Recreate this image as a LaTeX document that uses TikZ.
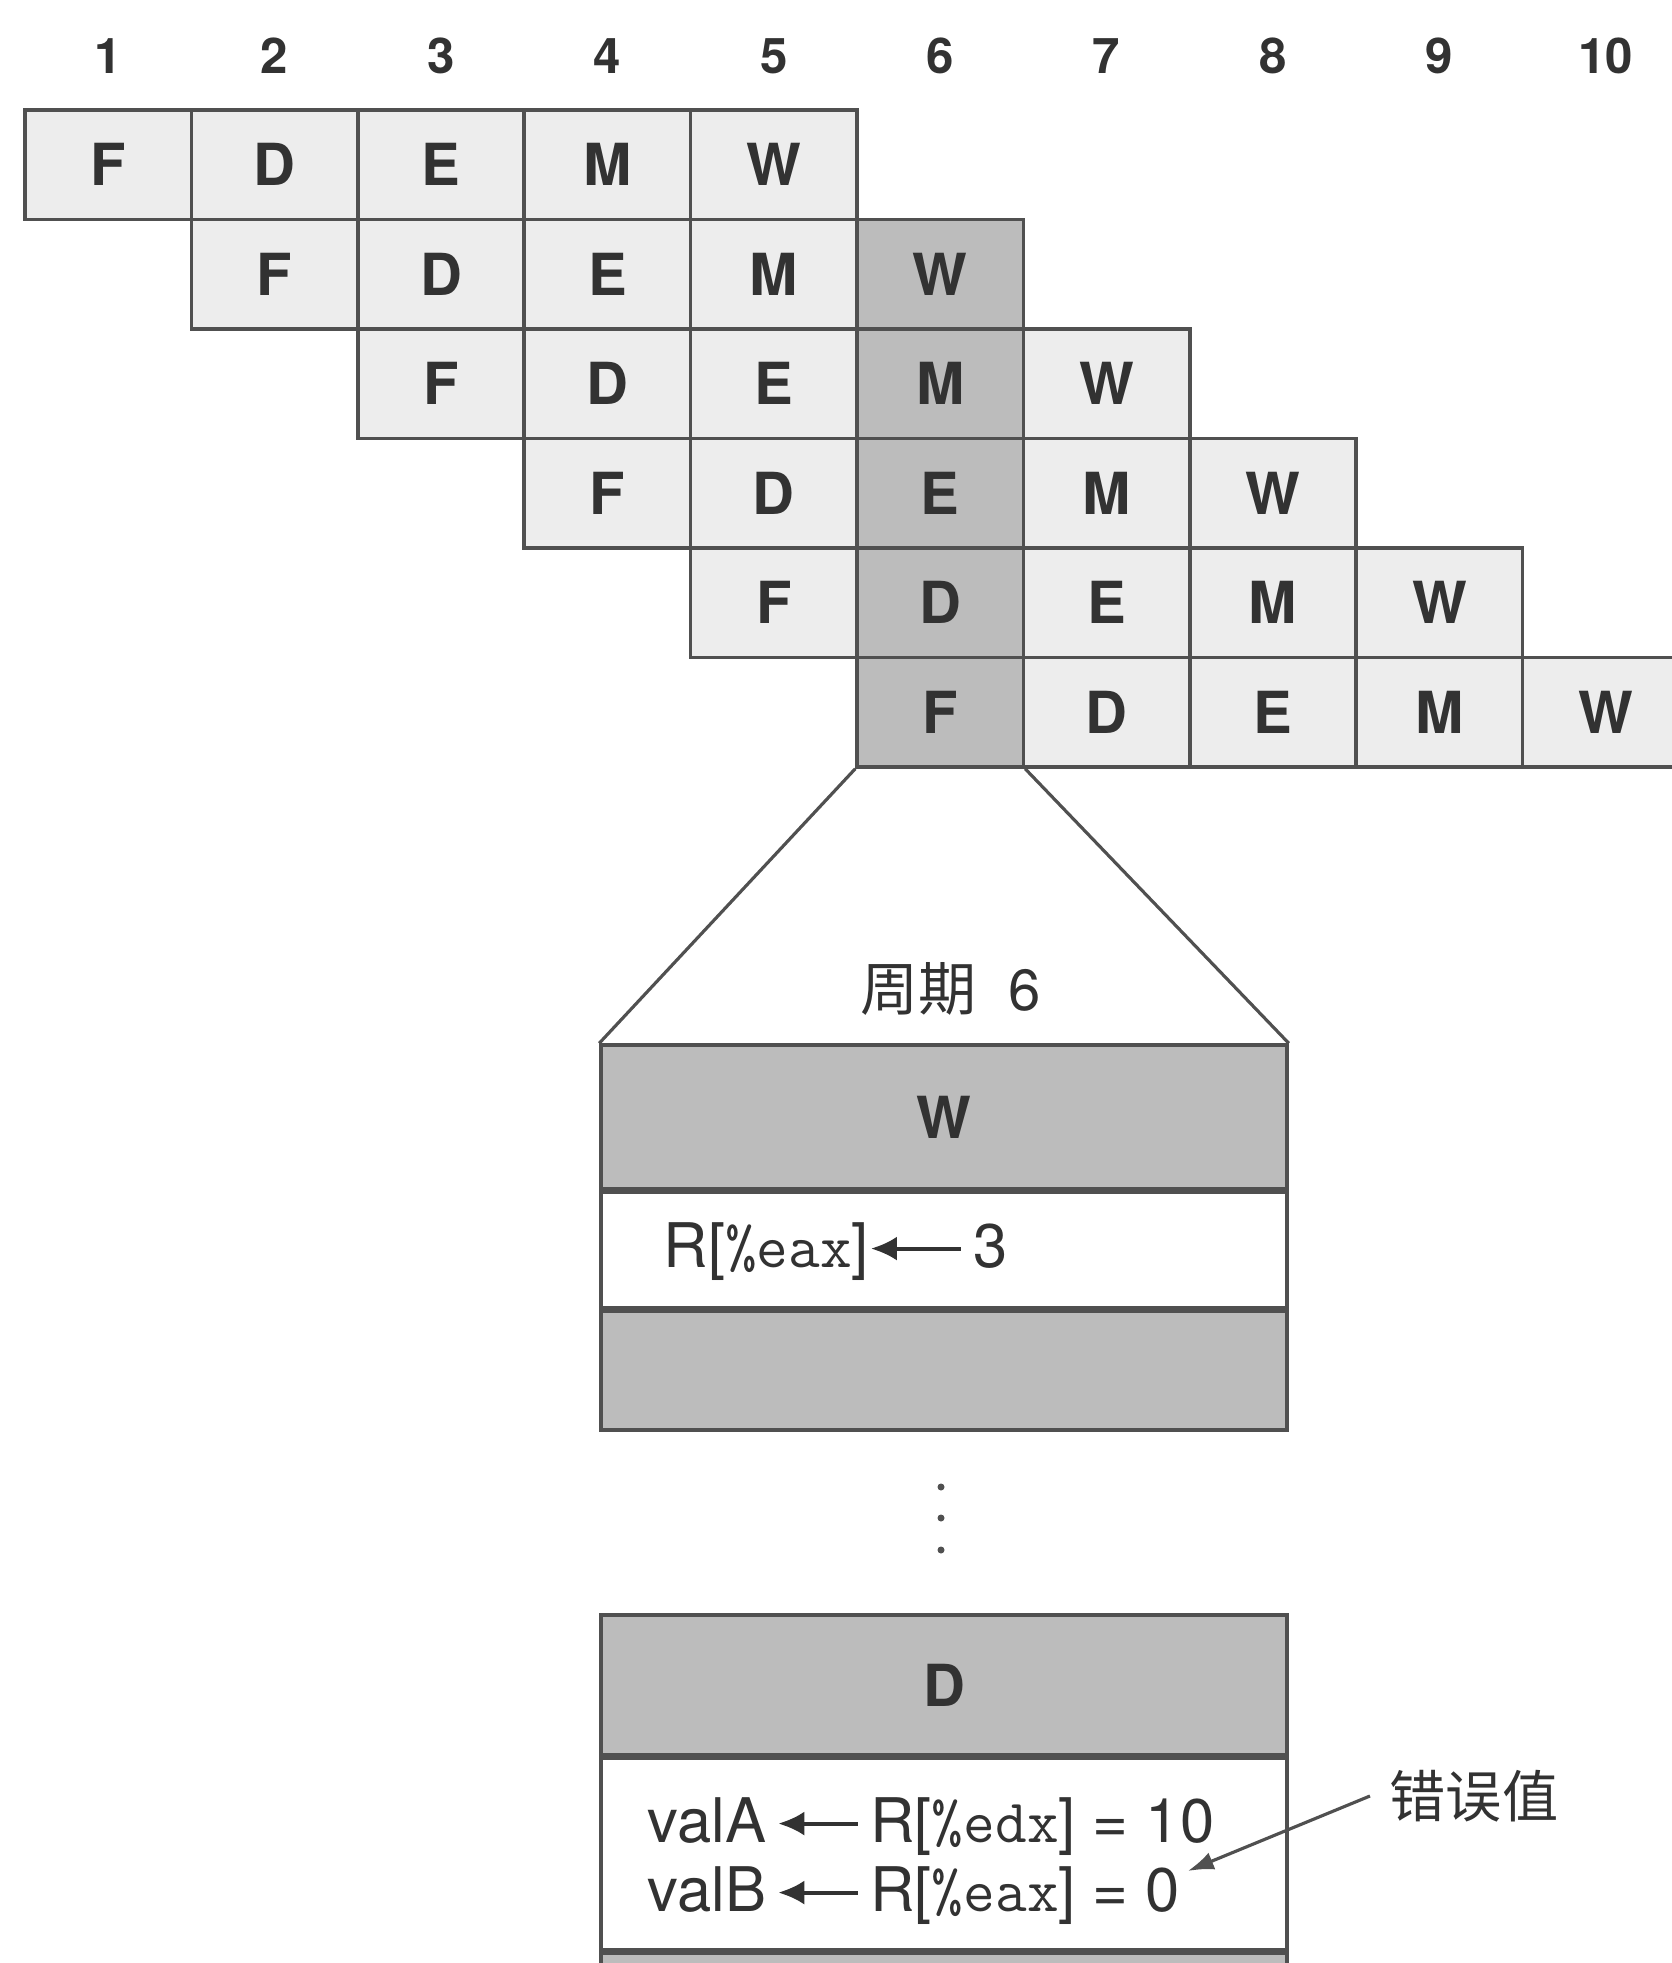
\documentclass[tikz,border=0pt]{standalone}
\usepackage{fontspec}
\setmainfont{TeX Gyre Heros}
\newfontfamily\cjk{Noto Sans CJK SC}
\usepackage{tikz}
\usetikzlibrary{arrows.meta}
\usetikzlibrary{positioning,calc}
\definecolor{cellgray}{RGB}{237,237,237}
\definecolor{stagegray}{RGB}{188,188,188}
\definecolor{linegray}{RGB}{80,80,80}
\definecolor{textgray}{RGB}{50,50,50}
\newcommand{\getsarrow}[1]{%
  \tikz[baseline=-0.6ex]\draw[{Latex[length=2.6mm,width=2.4mm]}-,line width=1.1pt,
    textgray] (0,0) -- (#1,0);}

\begin{document}
\begin{tikzpicture}[x=1cm,y=1cm,
    cell/.style={draw=linegray,line width=1pt,minimum width=1.664cm,
      minimum height=1.095cm,inner sep=0pt,text=textgray,
      font=\fontsize{16.5}{20}\selectfont\bfseries},
    colnum/.style={text=textgray,font=\fontsize{14}{16}\selectfont\bfseries},
    stagebox/.style={draw=linegray,line width=1pt,minimum width=6.86cm,
      inner sep=0pt,text=textgray,font=\fontsize{16.5}{20}\selectfont\bfseries},
    optext/.style={anchor=west,inner sep=0.19cm,text=textgray,
      font=\fontsize{17.5}{21}\selectfont},
    dot/.style={circle,fill=linegray,inner sep=0pt,minimum size=0.07cm}]
    \useasboundingbox (0,0) rectangle (16.71,-19.63);
    % clock cycle numbers
    \foreach \c in {1,...,10}{
      \node[colnum] (n\c) at ({1.082+1.664*(\c-1)},-0.56) {\c};}
    % pipeline rows, column 6 shaded
    \foreach \r in {1,...,6}{
      \foreach \s [count=\k from 0] in {F,D,E,M,W}{
        \pgfmathtruncatemacro{\c}{\r+\k}
        \ifnum\c=6 \def\cellfill{stagegray}\else\def\cellfill{cellgray}\fi
        \node[cell,fill=\cellfill] (c\r-\c)
          at ({1.082+1.664*(\c-1)},{-1.6475-1.095*(\r-1)}) {\s};}}
    % expanded view of cycle 6
    \node[text=textgray,font=\fontsize{16.5}{19}\selectfont] (cyc) at (9.51,-9.89)
      {{\cjk 周期}\hspace{0.55em}6};
    \node[stagebox,fill=stagegray,minimum height=1.44cm] (w6) at (9.44,-11.17) {W};
    \node[stagebox,fill=white,minimum height=1.15cm,below=0pt of w6] (w6op) {};
    \node[optext] (wb) at (6.44,-12.52) {R[\texttt{\%eax}]\getsarrow{0.9}\,3};
    \node[stagebox,fill=stagegray,minimum height=1.19cm,below=0pt of w6op] (w6end) {};
    \draw[linegray,line width=0.9pt] (c6-6.south west) -- (w6.north west);
    \draw[linegray,line width=0.9pt] (c6-6.south east) -- (w6.north east);
    % vertical ellipsis
    \foreach \y [count=\i] in {-14.87,-15.18,-15.50}{
      \node[dot] (dot\i) at (9.41,\y) {};}
    % decode stage of the later instruction
    \node[stagebox,fill=stagegray,minimum height=1.40cm] (d6) at (9.44,-16.85) {D};
    \node[stagebox,fill=white,minimum height=1.91cm,below=0pt of d6] (d6op) {};
    \node[stagebox,fill=stagegray,minimum height=1.20cm,below=0pt of d6op] (d6end) {};
    \node[optext] (vala) at (6.28,-18.27)
      {valA\,\getsarrow{0.8}\,R[\texttt{\%edx}] = 10};
    \node[optext] (valb) at (6.28,-18.96)
      {valB\,\getsarrow{0.8}\,R[\texttt{\%eax}] = 0};
    % wrong value annotation
    \node[text=textgray,inner sep=0.19cm,font=\fontsize{16}{19}\selectfont]
      (err) at (14.74,-17.96) {\cjk 错误值};
    \coordinate (errtip) at ($(valb.east)+(-0.12,0.25)$);
    \draw[-{Latex[length=2.6mm,width=1.8mm]},linegray,line width=0.9pt]
      (err.west) -- (errtip);
  \end{tikzpicture}
\end{document}
